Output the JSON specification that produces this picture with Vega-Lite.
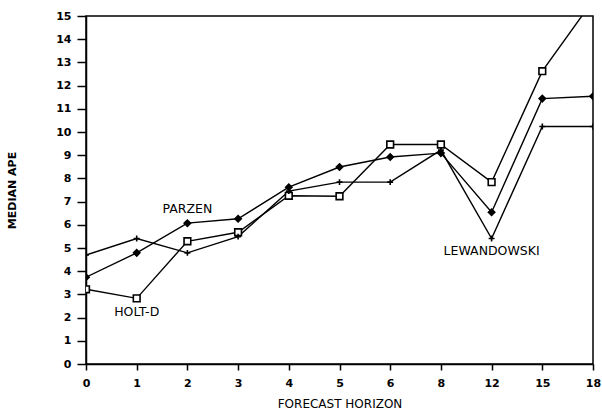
{
  "$schema": "https://vega.github.io/schema/vega-lite/v6.json",
  "autosize": "none",
  "width": 507,
  "height": 348,
  "padding": {"left": 86, "top": 16, "right": 9, "bottom": 47},
  "background": "white",
  "config": {
    "view": {"stroke": "black", "strokeWidth": 1.5},
    "font": "DejaVu Sans",
    "axis": {"labelFont": "DejaVu Sans", "titleFont": "DejaVu Sans"},
    "text": {"font": "DejaVu Sans"}
  },
  "datasets": {
    "series": [
      {"h": "0", "s": "HOLT-D", "v": 3.22},
      {"h": "1", "s": "HOLT-D", "v": 2.83},
      {"h": "2", "s": "HOLT-D", "v": 5.29},
      {"h": "3", "s": "HOLT-D", "v": 5.68},
      {"h": "4", "s": "HOLT-D", "v": 7.25},
      {"h": "5", "s": "HOLT-D", "v": 7.23},
      {"h": "6", "s": "HOLT-D", "v": 9.46},
      {"h": "8", "s": "HOLT-D", "v": 9.46},
      {"h": "12", "s": "HOLT-D", "v": 7.84},
      {"h": "15", "s": "HOLT-D", "v": 12.62},
      {"h": "18", "s": "HOLT-D", "v": 15.67},
      {"h": "0", "s": "PARZEN", "v": 3.74},
      {"h": "1", "s": "PARZEN", "v": 4.79},
      {"h": "2", "s": "PARZEN", "v": 6.07},
      {"h": "3", "s": "PARZEN", "v": 6.26},
      {"h": "4", "s": "PARZEN", "v": 7.62},
      {"h": "5", "s": "PARZEN", "v": 8.49},
      {"h": "6", "s": "PARZEN", "v": 8.92},
      {"h": "8", "s": "PARZEN", "v": 9.09},
      {"h": "12", "s": "PARZEN", "v": 6.54},
      {"h": "15", "s": "PARZEN", "v": 11.44},
      {"h": "18", "s": "PARZEN", "v": 11.54},
      {"h": "0", "s": "LEWANDOWSKI", "v": 4.70},
      {"h": "1", "s": "LEWANDOWSKI", "v": 5.41},
      {"h": "2", "s": "LEWANDOWSKI", "v": 4.79},
      {"h": "3", "s": "LEWANDOWSKI", "v": 5.49},
      {"h": "4", "s": "LEWANDOWSKI", "v": 7.45},
      {"h": "5", "s": "LEWANDOWSKI", "v": 7.84},
      {"h": "6", "s": "LEWANDOWSKI", "v": 7.84},
      {"h": "8", "s": "LEWANDOWSKI", "v": 9.22},
      {"h": "12", "s": "LEWANDOWSKI", "v": 5.41},
      {"h": "15", "s": "LEWANDOWSKI", "v": 10.24},
      {"h": "18", "s": "LEWANDOWSKI", "v": 10.24}
    ],
    "labels": [
      {"h": "2", "v": 6.66, "label": "PARZEN"},
      {"h": "1", "v": 2.24, "label": "HOLT-D"},
      {"h": "12", "v": 4.87, "label": "LEWANDOWSKI"}
    ]
  },
  "encoding": {
    "x": {
      "field": "h", "type": "ordinal",
      "sort": ["0", "1", "2", "3", "4", "5", "6", "8", "12", "15", "18"],
      "scale": {"type": "point", "padding": 0},
      "axis": {
        "title": "FORECAST HORIZON",
        "labelAngle": 0,
        "domainColor": "black", "domainWidth": 1.5,
        "tickColor": "black", "tickSize": 6, "tickWidth": 1.5,
        "labelColor": "black", "labelFontSize": 11, "labelFontWeight": "bold",
        "labelPadding": 7,
        "titleColor": "black", "titleFontSize": 12, "titleFontWeight": "normal",
        "titlePadding": 10,
        "grid": false
      }
    },
    "y": {
      "field": "v", "type": "quantitative",
      "scale": {"domain": [0, 15], "nice": false, "zero": true},
      "axis": {
        "title": "MEDIAN APE",
        "values": [0, 1, 2, 3, 4, 5, 6, 7, 8, 9, 10, 11, 12, 13, 14, 15],
        "domainColor": "black", "domainWidth": 1.5,
        "tickColor": "black", "tickSize": 9, "tickWidth": 1.5,
        "labelColor": "black", "labelFontSize": 11, "labelFontWeight": "bold",
        "labelPadding": 6,
        "titleColor": "black", "titleFontSize": 11, "titleFontWeight": "bold",
        "titlePadding": 38,
        "grid": false
      }
    }
  },
  "layer": [
    {
      "data": {"name": "series"},
      "mark": {"type": "line", "color": "black", "strokeWidth": 1.4, "clip": true},
      "encoding": {"detail": {"field": "s", "type": "nominal"}}
    },
    {
      "data": {"name": "series"},
      "transform": [{"filter": "datum.v <= 15"}],
      "mark": {"type": "point", "opacity": 1, "clip": true},
      "encoding": {
        "shape": {
          "field": "s", "type": "nominal", "legend": null,
          "scale": {
            "domain": ["HOLT-D", "PARZEN", "LEWANDOWSKI"],
            "range": ["square", "diamond", "M-1,0H1M0,-1V1"]
          }
        },
        "size": {
          "field": "s", "type": "nominal", "legend": null,
          "scale": {"domain": ["HOLT-D", "PARZEN", "LEWANDOWSKI"], "range": [45, 35, 90]}
        },
        "fill": {
          "field": "s", "type": "nominal", "legend": null,
          "scale": {"domain": ["HOLT-D", "PARZEN", "LEWANDOWSKI"], "range": ["white", "black", "black"]}
        },
        "stroke": {"value": "black"},
        "strokeWidth": {"value": 1.6}
      }
    },
    {
      "data": {"name": "labels"},
      "mark": {"type": "text", "color": "black", "fontSize": 12.5, "baseline": "middle", "align": "center", "font": "DejaVu Sans"},
      "encoding": {
        "text": {"field": "label"}
      }
    }
  ]
}
